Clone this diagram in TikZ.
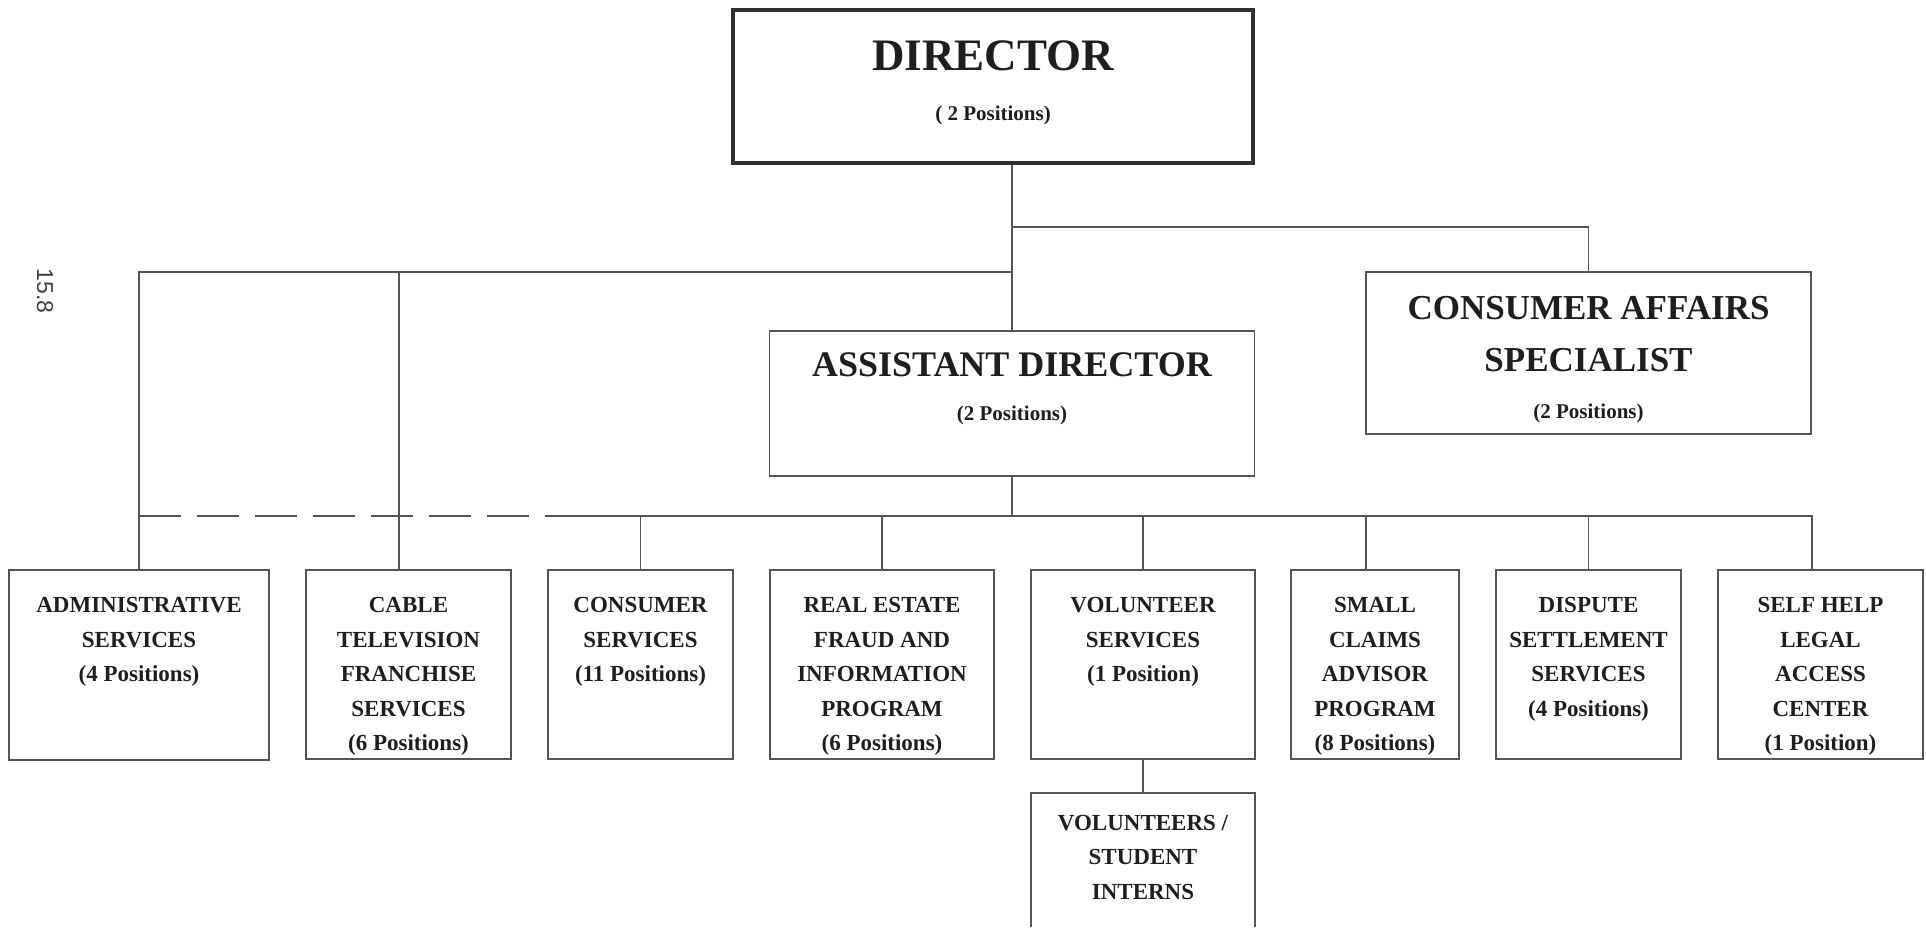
\documentclass[tikz,border=0pt]{standalone}
\usepackage{fontspec}
\setmainfont{Liberation Serif}
\newfontfamily\sansnum{Liberation Sans}
\usetikzlibrary{calc}
\definecolor{linec}{HTML}{555555}
\definecolor{textc}{HTML}{1E1E1E}
\definecolor{dirc}{HTML}{303030}
\tikzset{
  ln/.style={draw=linec, line width=1.5pt},
  box/.style={draw=linec, line width=1.5pt, inner sep=0pt},
  dirbox/.style={draw=dirc, line width=3.5pt, inner sep=0pt},
  txt/.style={text=textc, inner sep=0pt, align=center, anchor=north, font=\bfseries\fontsize{23}{34.5}\selectfont},
  big/.style={text=textc, inner sep=0pt, anchor=base},
  posn/.style={text=textc, inner sep=0pt, anchor=base, font=\bfseries\fontsize{21}{25}\selectfont},
}
\begin{document}
\begin{tikzpicture}[x=1pt,y=-1pt]
\useasboundingbox (0,0) rectangle (1926,927);
% top boxes
\node[dirbox, minimum width=520pt, minimum height=153pt] (dir) at (993,86.5) {};
\node[box, minimum width=485pt, minimum height=145pt] (ad) at (1012,403.5) {};
\node[box, minimum width=445pt, minimum height=162pt] (cas) at (1588.5,353) {};
% bottom boxes
\node[box, minimum width=260pt, minimum height=190pt] (adm) at (139,665) {};
\node[box, minimum width=205pt, minimum height=189pt] (cab) at (408.5,664.5) {};
\node[box, minimum width=185pt, minimum height=189pt] (con) at (640.5,664.5) {};
\node[box, minimum width=224pt, minimum height=189pt] (rea) at (882,664.5) {};
\node[box, minimum width=224pt, minimum height=189pt] (vol) at (1143,664.5) {};
\node[box, minimum width=168pt, minimum height=189pt] (sca) at (1375,664.5) {};
\node[box, minimum width=185pt, minimum height=189pt] (dis) at (1588.5,664.5) {};
\node[box, minimum width=205pt, minimum height=189pt] (shl) at (1820.5,664.5) {};
\node[inner sep=0pt, minimum width=224pt, minimum height=134pt] (int) at (1143,860) {};
\draw[ln] (int.south west) -- (int.north west) -- (int.north east) -- (int.south east);
% texts
\node[big, font=\bfseries\fontsize{45}{54}\selectfont] (dirt) at ($(dir.north)+(0,62)$) {DIRECTOR};
\node[posn] (dirp) at ($(dir.north)+(0,112)$) {( 2 Positions)};
\node[big, font=\bfseries\fontsize{36}{43}\selectfont] (adt) at ($(ad.north)+(0,46)$) {ASSISTANT DIRECTOR};
\node[posn] (adp) at ($(ad.north)+(0,90)$) {(2 Positions)};
\node[txt, font=\bfseries\fontsize{35}{52}\selectfont] (cast) at ($(cas.north)+(0,25)$) {CONSUMER AFFAIRS\\SPECIALIST};
\node[posn] (casp) at ($(cas.north)+(0,147)$) {(2 Positions)};
\node[txt] (admt) at ($(adm.north)+(0,28)$) {ADMINISTRATIVE\\SERVICES\\(4 Positions)};
\node[txt] (cabt) at ($(cab.north)+(0,28)$) {CABLE\\TELEVISION\\FRANCHISE\\SERVICES\\(6 Positions)};
\node[txt] (cont) at ($(con.north)+(0,28)$) {CONSUMER\\SERVICES\\(11 Positions)};
\node[txt] (reat) at ($(rea.north)+(0,28)$) {REAL ESTATE\\FRAUD AND\\INFORMATION\\PROGRAM\\(6 Positions)};
\node[txt] (volt) at ($(vol.north)+(0,28)$) {VOLUNTEER\\SERVICES\\(1 Position)};
\node[txt] (scat) at ($(sca.north)+(0,28)$) {SMALL\\CLAIMS\\ADVISOR\\PROGRAM\\(8 Positions)};
\node[txt] (dist) at ($(dis.north)+(0,28)$) {DISPUTE\\SETTLEMENT\\SERVICES\\(4 Positions)};
\node[txt] (shlt) at ($(shl.north)+(0,28)$) {SELF HELP\\LEGAL\\ACCESS\\CENTER\\(1 Position)};
\node[txt] (intt) at ($(int.north)+(0,22)$) {VOLUNTEERS /\\STUDENT\\INTERNS};
\node[text=textc!85, inner sep=0pt, rotate=-90, font=\sansnum\fontsize{23}{27}\selectfont] (pg) at (45,291) {15.8};
% junctions
\coordinate (j1) at (1012,227);
\coordinate (j2) at (1012,272);
\coordinate (j3) at (1012,516);
\coordinate (cabd) at ($(cab.north)+(-9.5,0)$);
\coordinate (scad) at ($(sca.north)+(-9,0)$);
\coordinate (shld) at ($(shl.north)+(-8.5,0)$);
\coordinate (dsh) at (546,516);
% connectors
\draw[ln] (dir.south -| j1) -- (ad.north);
\draw[ln] (j1) -| (cas.north);
\draw[ln] (j2) -| (adm.north);
\draw[ln] (cabd |- j2) -- (cabd);
\draw[ln] (ad.south) -- (j3);
\draw[ln, dash pattern=on 42pt off 16pt] (adm.north |- j3) -- (dsh);
\draw[ln] (dsh) -- (shld |- j3) -- (shld);
\foreach \n in {con,rea,vol,dis} \draw[ln] (\n.north |- j3) -- (\n.north);
\draw[ln] (scad |- j3) -- (scad);
\draw[ln] (vol.south) -- (int.north);
\end{tikzpicture}
\end{document}
